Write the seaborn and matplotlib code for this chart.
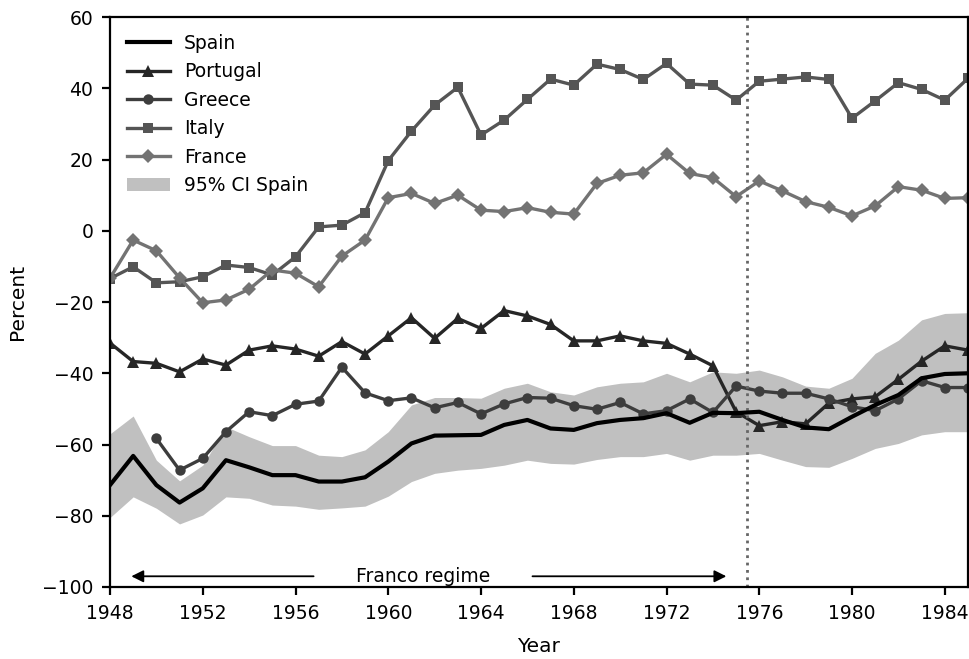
import seaborn as sns
import pandas as pd
import numpy as np
from matplotlib import pyplot as plt

years = list(range(1948, 1986))

spain = [-71.4, -63.2, -71.4, -76.3, -72.3, -64.4, -66.4, -68.6, -68.6, -70.4,
         -70.4, -69.2, -64.8, -59.7, -57.5, -57.4, -57.3, -54.5, -53.1, -55.5,
         -55.9, -54.0, -53.1, -52.6, -51.2, -53.9, -51.1, -51.2, -50.8, -53.1,
         -55.2, -55.7, -52.2, -48.9, -46.1, -41.4, -40.2, -40.0]
spain_hi = [-57.0, -52.0, -64.4, -70.2, -65.8, -55.0, -57.8, -60.3, -60.3, -63.0,
            -63.4, -61.5, -56.4, -48.9, -46.8, -46.8, -47.0, -44.2, -42.8, -45.2,
            -46.1, -43.8, -42.8, -42.4, -40.0, -42.4, -39.6, -40.0, -39.1, -41.0,
            -43.6, -44.2, -41.4, -34.4, -30.7, -25.0, -23.2, -23.0]
spain_lo = [-80.5, -74.7, -77.9, -82.3, -79.8, -74.7, -75.1, -77.0, -77.3, -78.2,
            -77.8, -77.3, -74.5, -70.4, -68.1, -67.2, -66.7, -65.8, -64.4, -65.3,
            -65.5, -64.2, -63.4, -63.4, -62.5, -64.4, -63.0, -63.0, -62.5, -64.4,
            -66.2, -66.4, -63.9, -61.1, -59.7, -57.3, -56.4, -56.4]
portugal = [-31.5, -36.7, -37.2, -39.6, -36.0, -37.7, -33.5, -32.3, -33.2, -35.2,
            -31.1, -34.6, -29.5, -24.4, -30.2, -24.6, -27.4, -22.4, -23.9, -26.3,
            -30.9, -30.9, -29.5, -30.9, -31.6, -34.6, -37.9, -50.8, -54.7, -53.6,
            -54.2, -48.4, -47.2, -46.6, -41.7, -36.6, -32.3, -33.5]
greece = [np.nan, np.nan, -58.3, -67.2, -63.9, -56.4, -50.8, -51.9, -48.7, -47.8,
          -38.3, -45.5, -47.7, -46.9, -49.7, -48.2, -51.4, -48.6, -46.8, -47.0,
          -49.1, -50.1, -48.2, -51.4, -50.5, -47.2, -51.0, -43.6, -45.0, -45.6,
          -45.6, -47.2, -49.4, -50.5, -47.2, -42.1, -44.0, -44.0]
italy = [-13.4, -10.1, -14.6, -14.3, -12.9, -9.6, -10.3, -12.4, -7.3, 1.1,
         1.6, 5.1, 19.7, 28.0, 35.3, 40.3, 26.9, 31.1, 36.9, 42.6,
         40.9, 46.8, 45.3, 42.5, 47.0, 41.2, 40.9, 36.7, 42.0, 42.6,
         43.2, 42.5, 31.6, 36.5, 41.6, 39.7, 36.7, 42.8]
france = [-13.3, -2.6, -5.6, -13.2, -20.2, -19.4, -16.4, -11.0, -11.9, -15.7,
          -7.1, -2.6, 9.3, 10.5, 7.7, 10.0, 5.8, 5.4, 6.5, 5.2,
          4.7, 13.3, 15.6, 16.3, 21.5, 16.1, 14.9, 9.6, 14.0, 11.2,
          8.2, 6.6, 4.2, 7.0, 12.4, 11.4, 9.1, 9.3]

df = pd.DataFrame({"Year": years, "Spain": spain, "lo": spain_lo, "hi": spain_hi,
                   "Portugal": portugal, "Greece": greece, "Italy": italy,
                   "France": france})

plt.rcParams["font.size"] = 13.5
fig = plt.figure(figsize=(9.7, 6.59), dpi=100)
ax = fig.add_axes([0.1134, 0.1093, 0.8845, 0.8647])

ax.fill_between(df["Year"], df["lo"], df["hi"], color="#c0c0c0", lw=0,
                label="95% CI Spain", zorder=1)
sns.lineplot(data=df, x="Year", y="Spain", color="black", lw=3, ax=ax,
             label="Spain", zorder=5)
sns.lineplot(data=df, x="Year", y="Portugal", color="#262626", lw=2.4,
             marker="^", markersize=8, markeredgewidth=0, ax=ax, label="Portugal")
sns.lineplot(data=df, x="Year", y="Greece", color="#3d3d3d", lw=2.4,
             marker="o", markersize=7.5, markeredgewidth=0, ax=ax, label="Greece")
sns.lineplot(data=df, x="Year", y="Italy", color="#555555", lw=2.4,
             marker="s", markersize=7.5, markeredgewidth=0, ax=ax, label="Italy")
sns.lineplot(data=df, x="Year", y="France", color="#737373", lw=2.4,
             marker="D", markersize=7, markeredgewidth=0, ax=ax, label="France")

ax.axvline(1975.45, color="#666666", ls=":", lw=2)

# Franco regime annotation
ax.annotate("", xy=(1948.8, -97), xytext=(1956.9, -97),
            arrowprops=dict(arrowstyle="-|>", color="black", lw=1.3,
                            mutation_scale=18))
ax.annotate("", xy=(1974.7, -97), xytext=(1966.1, -97),
            arrowprops=dict(arrowstyle="-|>", color="black", lw=1.3,
                            mutation_scale=18))
ax.text(1961.5, -97, "Franco regime", ha="center", va="center", fontsize=13.5)

ax.set_xlim(1948, 1985)
ax.set_ylim(-100, 60)
ax.set_xticks(range(1948, 1985, 4))
ax.set_yticks(range(-100, 61, 20))
ax.set_xlabel("Year", fontsize=14.5, labelpad=10)
ax.set_ylabel("Percent", fontsize=14.5, labelpad=11)
for s in ax.spines.values():
    s.set_linewidth(1.6)
ax.tick_params(width=1.6, length=6, labelsize=13.5, pad=6)

handles, labels = ax.get_legend_handles_labels()
order = ["Spain", "Portugal", "Greece", "Italy", "France", "95% CI Spain"]
hmap = dict(zip(labels, handles))
ax.legend([hmap[k] for k in order], order, loc="upper left", frameon=False,
          fontsize=13.5, handlelength=2.3, labelspacing=0.5, handletextpad=0.75,
          bbox_to_anchor=(0.0, 1.0))

fig.savefig("out.png", dpi=100)
